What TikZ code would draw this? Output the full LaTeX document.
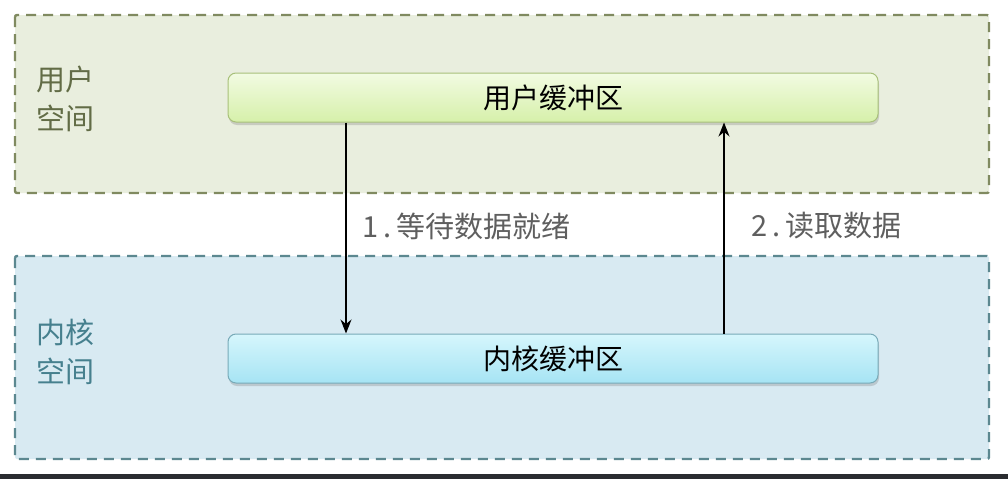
\documentclass[tikz,border=0pt]{standalone}
\usepackage{fontspec}
\setmainfont{Noto Sans CJK SC}
\usetikzlibrary{arrows.meta,shadows,calc}
\definecolor{userfill}{RGB}{233,238,222}
\definecolor{userline}{RGB}{128,138,96}
\definecolor{kernfill}{RGB}{216,234,242}
\definecolor{kernline}{RGB}{92,136,144}
\definecolor{usertext}{RGB}{98,108,70}
\definecolor{kerntext}{RGB}{70,128,142}
\definecolor{ubtop}{RGB}{242,251,226}
\definecolor{ubbot}{RGB}{214,240,170}
\definecolor{ubline}{RGB}{168,192,122}
\definecolor{kbtop}{RGB}{214,246,252}
\definecolor{kbbot}{RGB}{166,228,244}
\definecolor{kbline}{RGB}{120,170,184}
\definecolor{lbl}{RGB}{95,95,95}
\definecolor{darkbar}{RGB}{42,44,48}
\newcommand{\numpre}[1]{\makebox[17pt]{#1}\makebox[17pt]{.}}
\tikzset{
  region/.style={line width=2.4pt, dash pattern=on 10pt off 7pt, rounded corners=2pt},
  bufbox/.style={rounded corners=8pt, line width=1pt, minimum width=650pt, minimum height=49pt,
    font=\fontsize{28}{32}\selectfont, text=black, inner sep=0pt,
    drop shadow={shadow xshift=1pt, shadow yshift=-3pt, opacity=0.25, fill=black!60}},
  sidelabel/.style={font=\fontsize{29}{39}\selectfont, align=left, anchor=north west, inner sep=0pt},
  arr/.style={line width=1.1pt, -{Stealth[length=14pt,width=11pt]}},
  steplabel/.style={font=\fontsize{29}{32}\selectfont, text=lbl, anchor=west, inner sep=0pt}
}
\begin{document}
\begin{tikzpicture}[x=1pt,y=-1pt]
\useasboundingbox (0,0) rectangle (1008,479);
\fill[white] (0,0) rectangle (1008,479);
\fill[darkbar] (0,474) rectangle (1008,479);
% regions
\draw[region, draw=userline, fill=userfill] (15,15) rectangle (989,193);
\draw[region, draw=kernline, fill=kernfill] (15,256) rectangle (989,459);
% side labels
\node[sidelabel, text=usertext] (ul) at (36,66) {用户\\空间};
\node[sidelabel, text=kerntext] (kl) at (36,319) {内核\\空间};
% buffers
\node[bufbox, draw=ubline, top color=ubtop, bottom color=ubbot] (ub) at (553,97.5) {用户缓冲区};
\node[bufbox, draw=kbline, top color=kbtop, bottom color=kbbot] (kb) at (553,358.5) {内核缓冲区};
% arrows
\coordinate (a1) at (346,0);
\coordinate (a2) at (724,0);
\draw[arr] (ub.south -| a1) -- (kb.north -| a1);
\draw[arr] (kb.north -| a2) -- (ub.south -| a2);
% labels
\node[steplabel] (s1) at (362,226) {\numpre{1}等待数据就绪};
\node[steplabel] (s2) at (751,226) {\numpre{2}读取数据};
\end{tikzpicture}
\end{document}
